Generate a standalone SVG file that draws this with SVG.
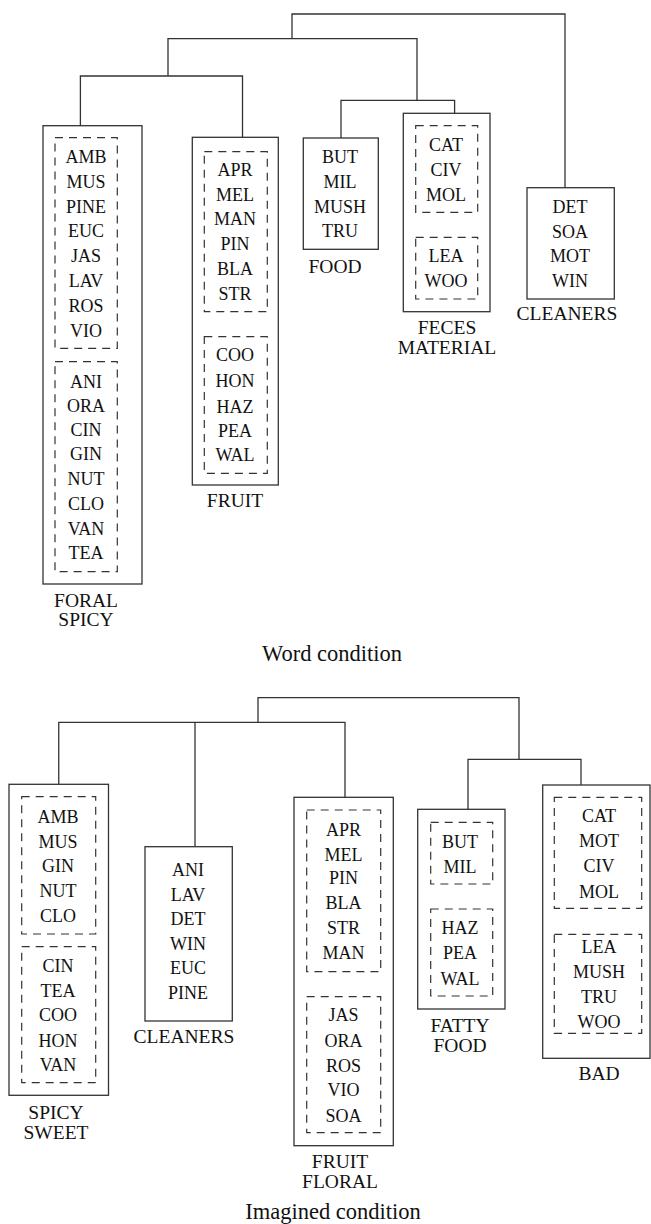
<svg xmlns="http://www.w3.org/2000/svg" width="651" height="1224" viewBox="0 0 651 1224" font-family="'Liberation Serif', 'Times New Roman', 'DejaVu Serif', serif">
<style>
.b{fill:none;stroke:#333;stroke-width:1.3}
.d{fill:none;stroke:#333;stroke-width:1.2;stroke-dasharray:8 6}
.c{fill:none;stroke:#333;stroke-width:1.3}
text{font-family:'Liberation Serif','Times New Roman','DejaVu Serif',serif;fill:#111;text-anchor:middle}
.i{font-size:18px}
.l{font-size:19.5px}
.t{font-size:22.5px}
</style>
<rect width="651" height="1224" fill="#fff"/>
<g id="connectors">
<path class="c" d="M292 38.7V14H565V187.7"/>
<path class="c" d="M168 76V38.7H417V100.3"/>
<path class="c" d="M80.4 125.7V76H242.5V137.3"/>
<path class="c" d="M341 138V100.3H454.6V113.3"/>
<path class="c" d="M258 722.3V697.7H519V759.3"/>
<path class="c" d="M58.75 784.3V722.3H345V797.3"/>
<path class="c" d="M195 722.3V846.7"/>
<path class="c" d="M468 809.3V759.3H581V785"/>
</g>
<g id="w-floral-spicy">
<rect class="b" x="43" y="125.7" width="99" height="458.3"/>
<rect class="d" x="55" y="137.7" width="62.3" height="210.6"/>
<rect class="d" x="55" y="361.7" width="62.3" height="210"/>
<g class="i">
<text x="86" y="162.7">AMB</text><text x="86" y="187.7">MUS</text><text x="86" y="212.7">PINE</text><text x="86" y="236.7">EUC</text><text x="86" y="261.7">JAS</text><text x="86" y="286.7">LAV</text><text x="86" y="311.7">ROS</text><text x="86" y="336.5">VIO</text>
<text x="86" y="387.7">ANI</text><text x="86" y="412">ORA</text><text x="86" y="436">CIN</text><text x="86" y="460.3">GIN</text><text x="86" y="485.3">NUT</text><text x="86" y="510">CLO</text><text x="86" y="535">VAN</text><text x="86" y="559.3">TEA</text>
</g>
<text class="l" x="86" y="607">FORAL</text><text class="l" x="86" y="626">SPICY</text>
</g>
<g id="w-fruit">
<rect class="b" x="192.3" y="137.3" width="86" height="347.7"/>
<rect class="d" x="204.3" y="151.7" width="63" height="160"/>
<rect class="d" x="204.3" y="336.7" width="63" height="136.6"/>
<g class="i">
<text x="235" y="176">APR</text><text x="235" y="201">MEL</text><text x="235" y="225.3">MAN</text><text x="235" y="250.3">PIN</text><text x="235" y="275.3">BLA</text><text x="235" y="300">STR</text>
<text x="235" y="361">COO</text><text x="235" y="386.7">HON</text><text x="235" y="412.7">HAZ</text><text x="235" y="437">PEA</text><text x="235" y="461">WAL</text>
</g>
<text class="l" x="235" y="506.6">FRUIT</text>
</g>
<g id="w-food">
<rect class="b" x="303.3" y="138" width="75" height="111.3"/>
<g class="i">
<text x="340" y="162.7">BUT</text><text x="340" y="188">MIL</text><text x="340" y="212.7">MUSH</text><text x="340" y="237">TRU</text>
</g>
<text class="l" x="335" y="273.3">FOOD</text>
</g>
<g id="w-feces">
<rect class="b" x="403.3" y="113.3" width="86.7" height="198.4"/>
<rect class="d" x="415.7" y="125.7" width="62" height="86.6"/>
<rect class="d" x="415.7" y="237.3" width="62" height="61.7"/>
<g class="i">
<text x="446" y="151">CAT</text><text x="446" y="176">CIV</text><text x="446" y="201">MOL</text>
<text x="446" y="262">LEA</text><text x="446" y="287">WOO</text>
</g>
<text class="l" x="447" y="334">FECES</text><text class="l" x="447" y="353.5">MATERIAL</text>
</g>
<g id="w-cleaners">
<rect class="b" x="527" y="187.7" width="87.3" height="111.3"/>
<g class="i">
<text x="570" y="213.3">DET</text><text x="570" y="237.7">SOA</text><text x="570" y="262">MOT</text><text x="570" y="287">WIN</text>
</g>
<text class="l" x="567" y="320">CLEANERS</text>
</g>
<text id="word-caption" class="t" x="332" y="660.6">Word condition</text>
<g id="i-spicy-sweet">
<rect class="b" x="9" y="784.3" width="99.5" height="311"/>
<rect class="d" x="21.7" y="796.7" width="74" height="137.3"/>
<rect class="d" x="21.7" y="946.7" width="74" height="136"/>
<g class="i">
<text x="58" y="823">AMB</text><text x="58" y="847.7">MUS</text><text x="58" y="872">GIN</text><text x="58" y="897">NUT</text><text x="58" y="922">CLO</text>
<text x="58" y="971.7">CIN</text><text x="58" y="996.7">TEA</text><text x="58" y="1021">COO</text><text x="58" y="1047">HON</text><text x="58" y="1071">VAN</text>
</g>
<text class="l" x="56" y="1119.3">SPICY</text><text class="l" x="56" y="1139.3">SWEET</text>
</g>
<g id="i-cleaners">
<rect class="b" x="145" y="846.7" width="87.3" height="174.3"/>
<g class="i">
<text x="188" y="876">ANI</text><text x="188" y="901">LAV</text><text x="188" y="925">DET</text><text x="188" y="950">WIN</text><text x="188" y="974.3">EUC</text><text x="188" y="999.3">PINE</text>
</g>
<text class="l" x="184" y="1042.6">CLEANERS</text>
</g>
<g id="i-fruit-floral">
<rect class="b" x="294" y="797.3" width="99.3" height="348.4"/>
<rect class="d" x="306.7" y="810" width="74" height="161.7"/>
<rect class="d" x="306.7" y="996.7" width="74" height="136"/>
<g class="i">
<text x="343.5" y="836">APR</text><text x="343.5" y="861">MEL</text><text x="343.5" y="884.3">PIN</text><text x="343.5" y="909.3">BLA</text><text x="343.5" y="934.3">STR</text><text x="343.5" y="958.7">MAN</text>
<text x="343.5" y="1021">JAS</text><text x="343.5" y="1047">ORA</text><text x="343.5" y="1071.7">ROS</text><text x="343.5" y="1096">VIO</text><text x="343.5" y="1121.7">SOA</text>
</g>
<text class="l" x="340" y="1168.3">FRUIT</text><text class="l" x="340" y="1188.3">FLORAL</text>
</g>
<g id="i-fatty-food">
<rect class="b" x="417.7" y="809.3" width="87.3" height="199.7"/>
<rect class="d" x="430.7" y="822.3" width="62" height="61.7"/>
<rect class="d" x="430.7" y="909" width="62" height="87"/>
<g class="i">
<text x="460" y="847.7">BUT</text><text x="460" y="873.3">MIL</text>
<text x="460" y="934.3">HAZ</text><text x="460" y="959.3">PEA</text><text x="460" y="985">WAL</text>
</g>
<text class="l" x="460" y="1031.6">FATTY</text><text class="l" x="460" y="1052.3">FOOD</text>
</g>
<g id="i-bad">
<rect class="b" x="542.7" y="785" width="107.3" height="273.3"/>
<rect class="d" x="554.3" y="797.3" width="87.4" height="111"/>
<rect class="d" x="554.3" y="934.3" width="87.4" height="99"/>
<g class="i">
<text x="599" y="822">CAT</text><text x="599" y="847">MOT</text><text x="599" y="872">CIV</text><text x="599" y="897.7">MOL</text>
<text x="599" y="952.7">LEA</text><text x="599" y="977.7">MUSH</text><text x="599" y="1002.7">TRU</text><text x="599" y="1027.7">WOO</text>
</g>
<text class="l" x="599" y="1080">BAD</text>
</g>
<text id="imagined-caption" class="t" x="333" y="1218.5">Imagined condition</text>
</svg>
